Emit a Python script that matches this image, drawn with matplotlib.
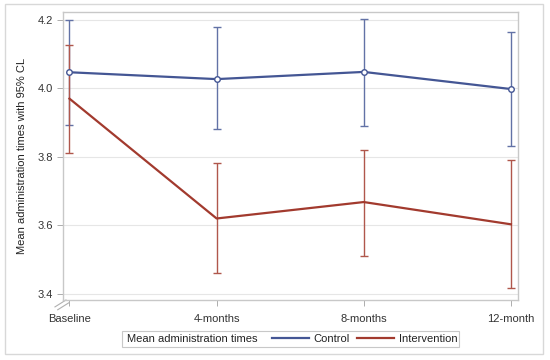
import matplotlib.pyplot as plt
from matplotlib.lines import Line2D
from matplotlib.patches import Rectangle

plt.rcParams['font.family'] = ['Liberation Sans', 'DejaVu Sans']

timepoints = ["Baseline", "4-months", "8-months", "12-month"]
control_mean = [4.047, 4.027, 4.048, 3.998]
control_low = [3.893, 3.880, 3.891, 3.832]
control_high = [4.201, 4.178, 4.203, 4.164]
interv_mean = [3.970, 3.620, 3.668, 3.603]
interv_low = [3.812, 3.460, 3.511, 3.417]
interv_high = [4.127, 3.782, 3.820, 3.790]

blue = "#445694"
red = "#A23A2E"

fig = plt.figure(figsize=(5.5, 3.6), dpi=100)
ax = fig.add_axes([0.1145, 0.1667, 0.8273, 0.8])

x = list(range(len(timepoints)))

# confidence intervals
for mean, lo, hi, col in [(control_mean, control_low, control_high, "#6272A6"),
                          (interv_mean, interv_low, interv_high, "#B0574C")]:
    yerr = [[m - l for m, l in zip(mean, lo)], [h - m for m, h in zip(mean, hi)]]
    ax.errorbar(x, mean, yerr=yerr, fmt="none", ecolor=col, elinewidth=1.0,
                capsize=3.2, capthick=1.0, zorder=2)

ax.plot(x, control_mean, color=blue, lw=1.6, marker="o", markersize=4,
        markerfacecolor="white", markeredgecolor=blue, markeredgewidth=1.0, zorder=3)
ax.plot(x, interv_mean, color=red, lw=1.6, zorder=3)

ax.set_xlim(-0.044, 3.048)
ax.set_ylim(3.382, 4.223)
ax.set_yticks([3.4, 3.6, 3.8, 4.0, 4.2])
ax.set_yticklabels(["3.4", "3.6", "3.8", "4.0", "4.2"])
ax.set_xticks(x)
ax.set_xticklabels(timepoints)
ax.tick_params(axis="both", labelsize=8, colors="#333333", length=4, width=0.6,
               color="#a0a0a0", pad=3)
ax.tick_params(axis="x", pad=6)
ax.grid(axis="y", color="#e6e6e6", lw=0.8)
ax.set_axisbelow(True)
for sp in ax.spines.values():
    sp.set_color("#c8c8c8")
    sp.set_linewidth(1.0)

ax.set_ylabel("Mean administration times with 95% CL", fontsize=8, color="#222222",
              labelpad=8)

# axis break marks at the lower-left corner
for off in (0.0, 1.0):
    ax.plot([-0.0176 + off * 0.006, 0.0066 + off * 0.006],
            [-0.024 - off * 0.01, 0.0 - off * 0.01], transform=ax.transAxes,
            color="#b0b0b0", lw=0.8, clip_on=False)

# legend: inline title, then the two series
fig.patches.append(Rectangle((122 / 550, 1 - 347 / 360), 337 / 550, 16 / 360,
                             transform=fig.transFigure, fill=True, facecolor="white",
                             edgecolor="#c8c8c8", lw=0.8))
fig.text(127 / 550, 1 - 339 / 360, "Mean administration times", fontsize=8,
         color="#222222", ha="left", va="center")
handles = [Line2D([], [], color=blue, lw=1.6), Line2D([], [], color=red, lw=1.6)]
leg = fig.legend(handles, ["Control", "Intervention"], loc="center left",
                 bbox_to_anchor=(266 / 550, 1 - 339 / 360), ncol=2, fontsize=8,
                 frameon=False, handlelength=3.4, handletextpad=0.4,
                 columnspacing=0.6, borderpad=0.0)
for t in leg.get_texts():
    t.set_color("#222222")

fig.patches.append(Rectangle((5 / 550, 6 / 360), 538 / 550, 350 / 360,
                             transform=fig.transFigure, fill=False,
                             edgecolor="#d8d8d8", lw=1.0))

fig.savefig("out.png", dpi=100)
